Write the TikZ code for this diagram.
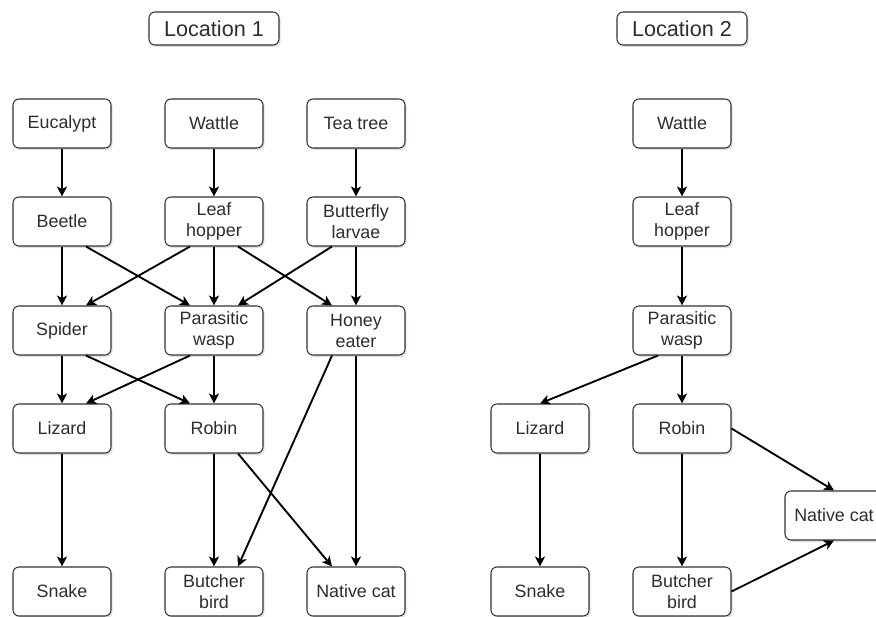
\documentclass[tikz,border=0pt]{standalone}
\usepackage{fontspec}
\setmainfont{Liberation Sans}
\usepackage{tikz}
\usetikzlibrary{positioning, calc, arrows.meta, shadows}
\definecolor{textgray}{RGB}{45, 45, 45}
\definecolor{shadowblue}{RGB}{140, 145, 180}

\begin{document}
\begin{tikzpicture}[x=0.75pt, y=-0.75pt,
        species/.style={draw=black!80, line width=0.8pt, rounded corners=4.5pt, fill=white,
            minimum width=73.5pt, minimum height=36.75pt, align=center, inner sep=1pt,
            text=textgray, font=\fontsize{13.4}{15.8}\selectfont,
            drop shadow={shadow xshift=1.2pt, shadow yshift=-1.5pt, opacity=0.3, fill=shadowblue}},
        heading/.style={species, minimum width=97.5pt, minimum height=24.75pt, font=\fontsize{16.2}{18}\selectfont},
        feeds/.style={-{Stealth[length=7.5pt, width=7.5pt, inset=2pt]}, line width=1.4pt, black}]
        \useasboundingbox (0,0) rectangle (876,617);

        \node[heading] (loc1) at (214,28.5) {Location 1};
        \node[heading] (loc2) at (682,28.5) {Location 2};

        \node[species] (euc) at (62,123.5) {Eucalypt};
        \node[species] (wat1) at (214,123.5) {Wattle};
        \node[species] (tea) at (356,123.5) {Tea tree};
        \node[species] (bee) at (62,221.5) {Beetle};
        \node[species] (leaf1) at (214,221.5) {Leaf\\hopper};
        \node[species] (fly) at (356,221.5) {Butterfly\\larvae};
        \node[species] (spi) at (62,330.5) {Spider};
        \node[species] (was1) at (214,330.5) {Parasitic\\wasp};
        \node[species] (hon) at (356,330.5) {Honey\\eater};
        \node[species] (liz1) at (62,428.5) {Lizard};
        \node[species] (rob1) at (214,428.5) {Robin};
        \node[species] (sna1) at (62,591.5) {Snake};
        \node[species] (bird1) at (214,591.5) {Butcher\\bird};
        \node[species] (cat1) at (356,591.5) {Native cat};

        \node[species] (wat2) at (682,123.5) {Wattle};
        \node[species] (leaf2) at (682,221.5) {Leaf\\hopper};
        \node[species] (was2) at (682,330.5) {Parasitic\\wasp};
        \node[species] (liz2) at (540,428.5) {Lizard};
        \node[species] (rob2) at (682,428.5) {Robin};
        \node[species] (cat2) at (834,515.5) {Native cat};
        \node[species] (sna2) at (540,591.5) {Snake};
        \node[species] (bird2) at (682,591.5) {Butcher\\bird};

        \draw[feeds] (euc) -- (bee);
        \draw[feeds] (wat1) -- (leaf1);
        \draw[feeds] (tea) -- (fly);
        \draw[feeds] (bee) -- (spi);
        \draw[feeds] ($(bee.south)+(24,0)$) -- ($(was1.north)+(-24,0)$);
        \draw[feeds] ($(leaf1.south)+(-24,0)$) -- ($(spi.north)+(24,0)$);
        \draw[feeds] (leaf1) -- (was1);
        \draw[feeds] ($(leaf1.south)+(24,0)$) -- ($(hon.north)+(-24,0)$);
        \draw[feeds] ($(fly.south)+(-24,0)$) -- ($(was1.north)+(24,0)$);
        \draw[feeds] (fly) -- (hon);
        \draw[feeds] (spi) -- (liz1);
        \draw[feeds] ($(spi.south)+(24,0)$) -- ($(rob1.north)+(-24,0)$);
        \draw[feeds] ($(was1.south)+(-24,0)$) -- ($(liz1.north)+(24,0)$);
        \draw[feeds] (was1) -- (rob1);
        \draw[feeds] ($(hon.south)+(-24,0)$) -- ($(bird1.north)+(24,0)$);
        \draw[feeds] (hon) -- (cat1);
        \draw[feeds] (liz1) -- (sna1);
        \draw[feeds] (rob1) -- (bird1);
        \draw[feeds] ($(rob1.south)+(24,0)$) -- ($(cat1.north)+(-24,0)$);

        \draw[feeds] (wat2) -- (leaf2);
        \draw[feeds] (leaf2) -- (was2);
        \draw[feeds] (was2) -- (rob2);
        \draw[feeds] ($(was2.south)+(-24,0)$) -- (liz2.north);
        \draw[feeds] (liz2) -- (sna2);
        \draw[feeds] (rob2) -- (bird2);
        \draw[feeds] (rob2.east) -- (cat2.north);
        \draw[feeds] (bird2.east) -- (cat2.south);
\end{tikzpicture}
\end{document}
